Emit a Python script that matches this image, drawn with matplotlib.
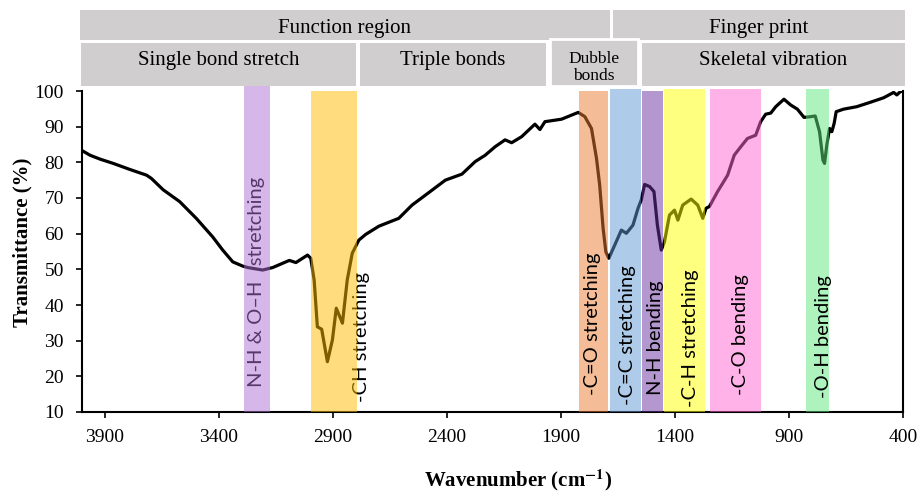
import matplotlib
matplotlib.use("Agg")
import matplotlib.pyplot as plt
from matplotlib.patches import Rectangle
import matplotlib.transforms as mtransforms

# ---------------- data ----------------
wavenumber = [4000, 3965, 3921, 3863, 3790, 3717, 3696, 3644, 3572, 3499, 3427, 3383,
              3339, 3295, 3273, 3208, 3164,
              3091, 3062, 3011, 2997, 2982, 2968, 2949, 2924, 2902, 2885, 2858, 2837,
              2815, 2786, 2756, 2698, 2611, 2553, 2465, 2407, 2334, 2276, 2232, 2188,
              2145, 2116, 2072, 2014, 1992, 1970, 1897, 1824, 1795, 1766, 1744, 1730,
              1715, 1703, 1690, 1664, 1635, 1613, 1584, 1562, 1548, 1533, 1511, 1492,
              1477, 1460, 1446, 1424, 1402, 1387, 1366, 1329, 1300, 1278, 1264, 1249,
              1213, 1169, 1140, 1111, 1082, 1046, 1024, 1002, 980, 958, 922, 893, 863,
              834, 805, 785, 766, 751, 744, 734, 722, 712, 702, 693, 661, 603, 545, 485,
              441, 427, 412, 400]
transmittance = [83.3, 82.0, 80.9, 79.7, 78.0, 76.4, 75.5, 72.3, 69.0, 64.3, 59.1, 55.4,
                 52.1, 50.9, 50.5, 49.8, 50.5,
                 52.5, 51.9, 54.0, 53.1, 47.0, 33.9, 33.2, 24.1, 30.2, 39.1, 34.9, 47.0,
                 54.5, 58.2, 59.8, 62.1, 64.3, 68.0, 72.2, 75.0, 76.7, 80.2, 82.0, 84.4,
                 86.3, 85.5, 87.2, 90.7, 89.2, 91.4, 92.1, 94.0, 92.8, 89.5, 81.1, 73.6,
                 61.5, 54.9, 53.1, 56.8, 61.0, 60.1, 62.4, 67.1, 69.4, 73.8, 73.2, 71.8,
                 62.4, 55.4, 57.7, 65.2, 66.6, 63.8, 68.0, 69.7, 68.0, 64.3, 67.1, 67.6,
                 71.8, 76.4, 82.0, 84.4, 86.7, 87.6, 91.4, 93.5, 93.8, 95.6, 97.7, 96.1, 94.9,
                 92.6, 92.8, 93.0, 88.6, 80.6, 79.7, 84.9, 89.5, 88.6, 90.9, 94.2, 94.9, 95.6, 96.8, 98.1,
                 99.6, 98.9, 99.8, 100.0]

band_labels = ["N-H & O\u2013H   stretching", "-CH stretching", "-C=O stretching",
               "-C=C stretching", "N-H bending", "-C-H stretching", "-C-O bending",
               "-O-H bending"]
band_start = [3290, 2995, 1820, 1685, 1546, 1449, 1248, 824]
band_end = [3175, 2795, 1695, 1549, 1453, 1267, 1022, 725]
band_colors = ["#AD73D5", "#FFBD01", "#EB7D31", "#5F9BD5", "#6B31A1", "#FFFF01",
               "#FF67D1", "#5FE77D"]
band_top = [1.016, 1.0, 1.0, 1.005, 1.0, 1.005, 1.005, 1.005]
label_x = [3237, 2776, 1763, 1610, 1484, 1333, 1114, 750]
label_y = [17.0, 12.8, 14.8, 12.0, 14.8, 11.4, 14.8, 13.9]
label_above = [False, False, True, True, True, True, True, True]

region_top_labels = ["Function region", "Finger print"]
region_top_start = [4010, 1670]
region_top_end = [1684, 393]
region_sub_labels = ["Single bond stretch", "Triple bonds", "Dubble\nbonds", "Skeletal vibration"]
region_sub_start = [4004, 2781, 1950, 1545]
region_sub_end = [2798, 1965, 1563, 393]

xticks = [3900, 3400, 2900, 2400, 1900, 1400, 900, 400]
yticks = [10, 20, 30, 40, 50, 60, 70, 80, 90, 100]

# ---------------- figure ----------------
plt.rcParams['font.family'] = ['Liberation Serif', 'DejaVu Serif']
plt.rcParams['mathtext.fontset'] = 'stix'

fig = plt.figure(figsize=(9.19, 4.92), dpi=100)
ax = fig.add_axes([82/919, 1-412/492, 821/919, 321/492])

ax.plot(wavenumber, transmittance, color='black', lw=2.3, zorder=2,
        solid_joinstyle='round')

for i, lab in enumerate(band_labels):
    ax.axvspan(band_start[i], band_end[i], ymin=0, ymax=band_top[i],
               facecolor=band_colors[i], alpha=0.5, edgecolor='none',
               zorder=4, clip_on=False)
    ax.text(label_x[i], label_y[i], lab, rotation=90, ha='center', va='bottom',
            family=['Lato', 'DejaVu Sans'], fontsize=14.5, color='black',
            zorder=5 if label_above[i] else 3)

ax.set_xlim(4000, 400)
ax.set_ylim(10, 100)
ax.set_xticks(xticks)
ax.set_yticks(yticks)
ax.tick_params(axis='both', labelsize=14, direction='out', length=4, width=1.2)
ax.tick_params(axis='y', pad=9)
ax.tick_params(axis='x', pad=8)
for s in ['left', 'bottom', 'right']:
    ax.spines[s].set_linewidth(1.5)
ax.spines['top'].set_visible(False)

ax.set_ylabel('Transmittance (%)', fontsize=15, fontweight='bold', va='center')
ax.set_xlabel(r'Wavenumber (cm$^{\mathbf{-1}}$)', fontsize=15, fontweight='bold',
              va='center')
ax.yaxis.set_label_coords(-0.073, 0.53)
ax.xaxis.set_label_coords(0.531, -0.212)

trans = mtransforms.blended_transform_factory(ax.transData, ax.transAxes)
box_color = '#D0CECE'
# top row
for i, lab in enumerate(region_top_labels):
    x0, x1 = region_top_start[i], region_top_end[i]
    ax.add_patch(Rectangle((x0, 1.159), x1 - x0, 0.093, transform=trans,
                           facecolor=box_color, edgecolor='none', clip_on=False, zorder=1))
    ax.text((x0 + x1) / 2, 1.196, lab, transform=trans, ha='center', va='center',
            fontsize=15)
# second row
for i, lab in enumerate(region_sub_labels):
    x0, x1 = region_sub_start[i], region_sub_end[i]
    if lab.startswith("Dubble"):
        ax.add_patch(Rectangle((x0, 1.0156), x1 - x0, 1.163 - 1.0156, transform=trans,
                               facecolor=box_color, edgecolor='white', lw=2,
                               clip_on=False, zorder=1.5))
        ax.text((x0 + x1) / 2, 1.072, lab, transform=trans, ha='center', va='center',
                fontsize=12.5, linespacing=1.1, zorder=2)
    else:
        ax.add_patch(Rectangle((x0, 1.0156), x1 - x0, 1.1486 - 1.0156, transform=trans,
                               facecolor=box_color, edgecolor='none', clip_on=False, zorder=1))
        ax.text((x0 + x1) / 2, 1.094, lab, transform=trans, ha='center', va='center',
                fontsize=15)

fig.savefig('out.png', dpi=100)
